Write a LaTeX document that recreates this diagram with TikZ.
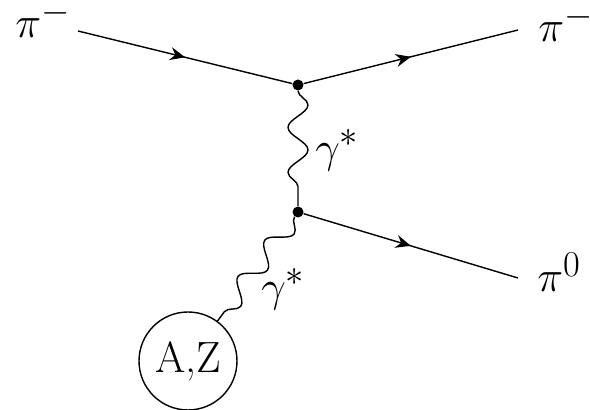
\documentclass[tikz,border=0pt]{standalone}
\usetikzlibrary{positioning,calc,arrows.meta,decorations.pathmorphing,decorations.markings}

\begin{document}
\begin{tikzpicture}[
  fermion/.style={draw,line width=0.8pt,postaction={decorate},
    decoration={markings,mark=at position 0.5 with {\arrow{Stealth[length=3mm,width=2.6mm]}}}},
  photon/.style={draw,line width=0.8pt,decorate,
    decoration={snake,amplitude=0.2cm,segment length=0.9cm}},
  vertex/.style={circle,fill,inner sep=0pt,minimum size=2.2mm},
  lbl/.style={font=\Huge,inner sep=0pt}]
  \useasboundingbox (0,0) rectangle (11.8,8.2);
  % vertices and external points
  \coordinate (inL) at (1.56,7.58);
  \node[vertex] (v1) at (5.96,6.5) {};
  \node[vertex] (v2) at (5.96,3.96) {};
  \coordinate (outT) at (10.36,7.6);
  \coordinate (outB) at (10.36,2.64);
  \node[circle,draw,line width=0.8pt,minimum size=1.96cm,font=\Huge,inner sep=0pt] (nuc) at (3.76,0.98) {A,Z};
  % lines
  \draw[fermion] (inL) -- (v1);
  \draw[fermion] (v1) -- (outT);
  \draw[fermion] (v2) -- (outB);
  \draw[photon] (v1) -- (v2);
  \draw[photon] (v2) -- (nuc);
  % labels
  \node[lbl,anchor=base west] (piin) at (0.3,7.44) {$\pi^-$};
  \node[lbl,anchor=base west] (piout) at (10.76,7.36) {$\pi^-$};
  \node[lbl,anchor=base west] (pizero) at (10.74,2.36) {$\pi^0$};
  \node[lbl,anchor=west] (gam1) at (6.3,5.2) {$\gamma^*$};
  \node[lbl,anchor=west] (gam2) at (5.22,2.42) {$\gamma^*$};
\end{tikzpicture}
\end{document}
